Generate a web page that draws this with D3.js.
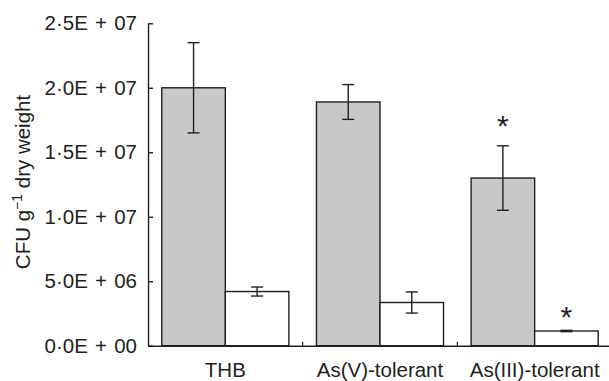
<!DOCTYPE html>
<html>
<head>
<meta charset="utf-8">
<script src="https://cdn.jsdelivr.net/npm/d3@7"></script>
<style>
  body { margin: 0; background: #fff; }
  svg { display: block; font-family: "Liberation Sans", Arial, Helvetica, sans-serif; }
</style>
</head>
<body>
<svg id="chart" width="609" height="381"></svg>
<script>
// data
const categories = ["THB", "As(V)-tolerant", "As(III)-tolerant"];
const series = ["grey", "white"];
const greyValues = [2.0e7, 1.89e7, 1.30e7];
const greyErrors = [3.5e6, 1.35e6, 2.5e6];
const whiteValues = [4.2e6, 3.35e6, 1.14e6];
const whiteErrors = [0.35e6, 0.82e6, 0.05e6];
const yTicks = [0, 5e6, 1e7, 1.5e7, 2e7, 2.5e7];
const yTickLabels = ["0·0E + 00", "5·0E + 06", "1·0E + 07", "1·5E + 07", "2·0E + 07", "2·5E + 07"];
// asterisk markers (category, series, height in data units)
const stars = [
    { cat: "As(III)-tolerant", s: "grey", v: 1.76e7 },
    { cat: "As(III)-tolerant", s: "white", v: 2.74e6 }
];

const svg = d3.select("#chart");
const mLeft = 148, mRight = 612, mTop = 23.3, mBottom = 345.7;
const ink = "#231f20";
const fs = 20.5;

let y = d3.scaleLinear().domain([0, 2.5e7]).range([mBottom, mTop]);
let x = d3.scaleBand().domain(categories).range([mLeft, mRight]).paddingInner(0).paddingOuter(0);
let xs = d3.scaleBand().domain(series).range([0, x.bandwidth()]).paddingInner(0).paddingOuter(0.217);

let rows = [];
categories.forEach((c, i) => {
    rows.push({ cat: c, s: "grey", v: greyValues[i], e: greyErrors[i] });
    rows.push({ cat: c, s: "white", v: whiteValues[i], e: whiteErrors[i] });
});

// bars
svg.append("g").selectAll("rect")
    .data(rows)
    .enter()
    .append("rect")
    .attr("x", d => x(d.cat) + xs(d.s))
    .attr("y", d => y(d.v))
    .attr("width", xs.bandwidth())
    .attr("height", d => y(0) - y(d.v))
    .attr("fill", d => d.s == "grey" ? "#c8c8ca" : "#fff")
    .attr("stroke", ink)
    .attr("stroke-width", 1.4);

// error bars
let eb = svg.append("g").attr("stroke", ink).attr("stroke-width", 1.4);
rows.forEach(d => {
    let cx = x(d.cat) + xs(d.s) + xs.bandwidth() / 2;
    let y1 = y(d.v + d.e), y2 = y(d.v - d.e);
    eb.append("line").attr("x1", cx).attr("x2", cx).attr("y1", y1).attr("y2", y2);
    eb.append("line").attr("x1", cx - 6).attr("x2", cx + 6).attr("y1", y1).attr("y2", y1);
    eb.append("line").attr("x1", cx - 6).attr("x2", cx + 6).attr("y1", y2).attr("y2", y2);
});

// y axis
let yAxis = d3.axisLeft(y)
    .tickValues(yTicks)
    .tickFormat((d, i) => yTickLabels[i])
    .tickSizeInner(-5)
    .tickSizeOuter(0)
    .tickPadding(11);
let gy = svg.append("g").attr("transform", "translate(" + mLeft + ",0)").call(yAxis);
gy.select(".domain").attr("stroke", ink).attr("stroke-width", 1.4);
gy.selectAll(".tick line").attr("stroke", ink).attr("stroke-width", 1.4);
gy.selectAll(".tick text")
    .attr("font-size", fs)
    .attr("fill", ink)
    .attr("font-family", "Liberation Sans, Arial, sans-serif")
    .style("word-spacing", "1.5px");

// x axis
let xAxis = d3.axisBottom(x).tickSize(0).tickSizeOuter(0).tickPadding(17);
let gx = svg.append("g").attr("transform", "translate(0," + mBottom + ")").call(xAxis);
gx.select(".domain").attr("stroke", ink).attr("stroke-width", 1.4);
gx.selectAll(".tick text")
    .attr("font-size", fs)
    .attr("fill", ink)
    .attr("font-family", "Liberation Sans, Arial, sans-serif");
// small ticks between categories
gx.selectAll(".sep")
    .data(categories.slice(1))
    .enter()
    .append("line")
    .attr("x1", d => x(d)).attr("x2", d => x(d))
    .attr("y1", 0).attr("y2", -4)
    .attr("stroke", ink).attr("stroke-width", 1.2);

// asterisks
svg.append("g").selectAll("text")
    .data(stars)
    .enter()
    .append("text")
    .attr("x", d => x(d.cat) + xs(d.s) + xs.bandwidth() / 2)
    .attr("y", d => y(d.v) + 17)
    .attr("text-anchor", "middle")
    .attr("font-size", 30)
    .attr("fill", ink)
    .text("*");

// y axis title
let yt = svg.append("text")
    .attr("transform", "translate(30,182) rotate(-90)")
    .attr("text-anchor", "middle")
    .attr("font-size", fs)
    .attr("fill", ink);
yt.append("tspan").text("CFU g");
yt.append("tspan").attr("font-size", 14).attr("dy", -8).text("−1");
yt.append("tspan").attr("dy", 8).text(" dry weight");
</script>
</body>
</html>
